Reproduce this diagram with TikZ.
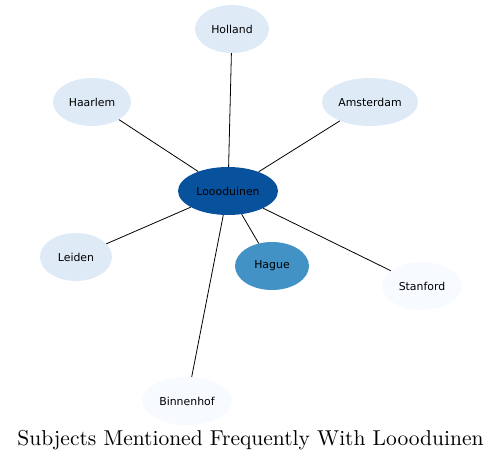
\documentclass[tikz,border=0pt]{standalone}
\usepackage{fontspec}
\newfontfamily\nodefont{DejaVu Sans}
\newfontfamily\titlefont{lmroman10-regular}[Extension=.otf]
\usetikzlibrary{shapes.geometric}
\definecolor{cdark}{HTML}{08519C}
\definecolor{cmid}{HTML}{4292C6}
\definecolor{clight}{HTML}{DEEBF7}
\definecolor{cpale}{HTML}{F7FBFF}
\tikzset{
  topic/.style={ellipse, inner sep=0pt, minimum height=48pt, font=\nodefont\fontsize{10.9}{12}\selectfont, text=black},
  link/.style={draw=black, line width=0.8pt}
}
\begin{document}
\begin{tikzpicture}[x=1pt,y=-1pt]
\useasboundingbox (0,0) rectangle (501,462);
\node[topic, fill=cdark, minimum width=100pt] (loo) at (228,191) {Loooduinen};
\node[topic, fill=clight, minimum width=74pt] (hol) at (232,29) {Holland};
\node[topic, fill=clight, minimum width=78pt] (haa) at (92,102) {Haarlem};
\node[topic, fill=clight, minimum width=96pt] (ams) at (370,102) {Amsterdam};
\node[topic, fill=clight, minimum width=72pt] (lei) at (76,257) {Leiden};
\node[topic, fill=cmid, minimum width=74pt] (hag) at (272,266) {Hague};
\node[topic, fill=cpale, minimum width=80pt] (sta) at (422,286) {Stanford};
\node[topic, fill=cpale, minimum width=90pt] (bin) at (187,401) {Binnenhof};
\draw[link] (loo) -- (hol);
\draw[link] (loo) -- (haa);
\draw[link] (loo) -- (ams);
\draw[link] (loo) -- (lei);
\draw[link] (loo) -- (hag);
\draw[link] (loo) -- (sta);
\draw[link] (loo) -- (bin);
\node[font=\titlefont\fontsize{21.5}{24}\selectfont, inner sep=0pt] (title) at (250.5,440) {Subjects Mentioned Frequently With Loooduinen};
\end{tikzpicture}
\end{document}
